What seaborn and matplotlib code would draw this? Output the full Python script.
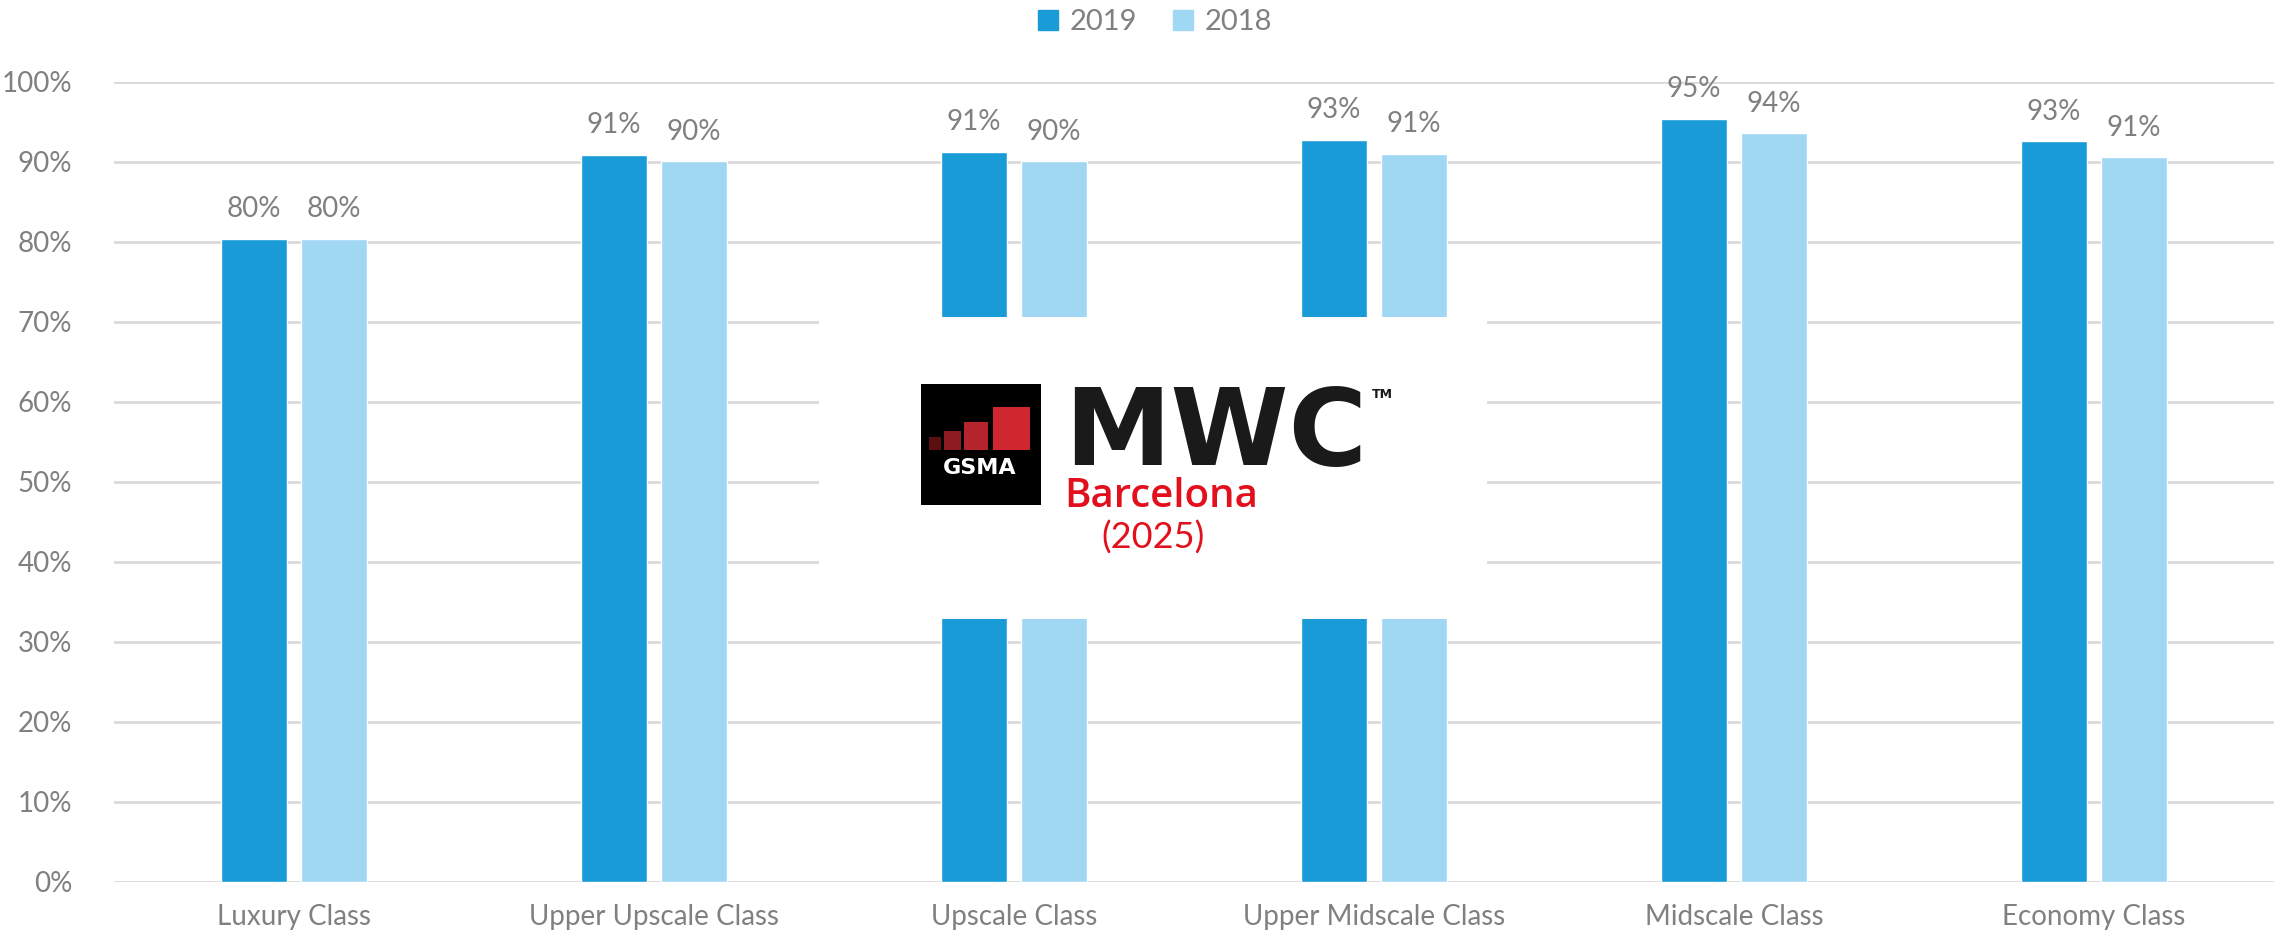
import numpy as np
import pandas as pd
import seaborn as sns
import matplotlib.pyplot as plt
from matplotlib.patches import Rectangle

categories = ["Luxury Class", "Upper Upscale Class", "Upscale Class",
              "Upper Midscale Class", "Midscale Class", "Economy Class"]
years = ["2019", "2018"]
vals_2019 = [0.804, 0.909, 0.913, 0.928, 0.954, 0.926]
vals_2018 = [0.804, 0.901, 0.901, 0.910, 0.936, 0.906]
colors = {"2019": "#189BD7", "2018": "#A0D8F3"}

W, H = 2280, 940
grey = "#808080"

sns.set_theme(style="white")
plt.rcParams["font.family"] = ["Lato", "DejaVu Sans"]

df = pd.DataFrame({
    "cat": categories * 2,
    "year": ["2019"] * len(categories) + ["2018"] * len(categories),
    "val": vals_2019 + vals_2018,
})

fig = plt.figure(figsize=(W / 100, H / 100), dpi=100)
ax = fig.add_axes([114 / W, 1 - 882 / H, (2274 - 114) / W, 800 / H])

sns.barplot(data=df, x="cat", y="val", hue="year", hue_order=years,
            palette=colors, order=categories, width=0.444, gap=0.163,
            saturation=1, ax=ax, legend=False, zorder=3)

ax.set_ylim(0, 1)
ax.set_yticks(np.arange(0, 1.01, 0.1))
ax.set_yticklabels([f"{int(round(t * 100))}%" for t in ax.get_yticks()])
ax.set_xlim(-0.5, len(categories) - 0.5)
ax.set_xlabel("")
ax.set_ylabel("")
ax.yaxis.grid(True, color="#D9D9D9", linewidth=2)
ax.set_axisbelow(True)
for s in ax.spines.values():
    s.set_visible(False)
ax.tick_params(axis="y", length=0, pad=30, labelsize=20, labelcolor=grey)
ax.tick_params(axis="x", length=0, pad=16, labelsize=20, labelcolor=grey)

for cont in ax.containers:
    ax.bar_label(cont, labels=[f"{v * 100:.0f}%" for v in cont.datavalues],
                 padding=12, fontsize=20, color=grey, clip_on=False)

# legend on top
handles = [Rectangle((0, 0), 1, 1, color=colors[y]) for y in years]
fig.legend(handles, years, loc="center", bbox_to_anchor=(1155 / W, 1 - 22 / H),
           ncol=2, frameon=False, fontsize=21, labelcolor=grey,
           handlelength=0.7, handleheight=0.7, handletextpad=0.4,
           columnspacing=1.2)


# logo overlay
def fx(x):
    return x / W


def fy(y):
    return 1 - y / H


def box(x0, y0, x1, y1, color):
    fig.add_artist(Rectangle((fx(x0), fy(y1)), fx(x1) - fx(x0), fy(y0) - fy(y1),
                             transform=fig.transFigure, color=color, zorder=5,
                             linewidth=0))


box(819, 317, 1487, 619, "white")
box(921, 384, 1041, 505, "black")
bars = [(929, 941, 437, "#5C0F10"), (944, 961, 431, "#8E1B20"),
        (964, 988, 422, "#B5232C"), (993, 1030, 407, "#D0262F")]
for x0, x1, top, c in bars:
    box(x0, top, x1, 450, c)
fig.text(fx(980), fy(468), "GSMA", color="white", fontsize=16, weight="bold",
         family="DejaVu Sans", ha="center", va="center", zorder=6)
fig.text(fx(1064), fy(465), "MWC", color="#1A1A1A", fontsize=77, weight="heavy",
         family="DejaVu Sans", ha="left", va="baseline", zorder=6)
fig.text(fx(1372), fy(398), "TM", color="#1A1A1A", fontsize=9, weight="bold",
         family="DejaVu Sans", ha="left", va="baseline", zorder=6)
fig.text(fx(1064), fy(507), "Barcelona", color="#E2101C", fontsize=29,
         family="Open Sans", weight="semibold", ha="left", va="baseline", zorder=6)
fig.text(fx(1153), fy(538), "(2025)", color="#E2101C", fontsize=26,
         ha="center", va="center", zorder=6)

fig.savefig("out.png", dpi=100)
